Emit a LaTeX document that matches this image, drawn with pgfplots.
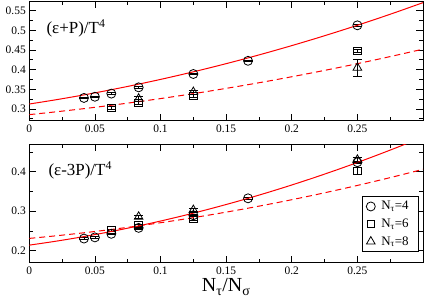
\documentclass[border=0pt]{standalone}
\usepackage{fontspec}
\setmainfont{Liberation Serif}
\usepackage{pgfplots}
\pgfplotsset{compat=1.18}

\pgfplotsset{
 panel/.style={
  scale only axis, width=393.7bp,
  xmin=0, xmax=0.3,
  xtick={0,0.05,0.1,0.15,0.2,0.25},
  xticklabels={0,0.05,0.1,0.15,0.2,0.25},
  minor xtick={0.025,0.075,0.125,0.175,0.225,0.275},
  tick align=inside, major tick length=7bp, minor tick length=4bp,
  axis line style={line width=0.8bp},
  every tick/.style={black, line width=0.8bp},
  tick label style={font=\fontsize{11.5}{13}\selectfont},
  /pgf/number format/assume math mode=true,
  xticklabel style={yshift=-1bp},
 },
 circ/.style={black, only marks, mark=o, mark size=4.5bp, mark options={line width=0.8bp},
   error bars/.cd, y dir=both, y explicit, error bar style={line width=0.8bp}, error mark options={rotate=90, mark size=4.5bp, line width=0.8bp}},
 sq/.style={black, only marks, mark=square, mark size=3.8bp, mark options={line width=0.8bp},
   error bars/.cd, y dir=both, y explicit, error bar style={line width=0.8bp}, error mark options={rotate=90, mark size=3.8bp, line width=0.8bp}},
 tri/.style={black, only marks, mark=triangle, mark size=5bp, mark options={line width=0.8bp},
   error bars/.cd, y dir=both, y explicit, error bar style={line width=0.8bp}, error mark options={rotate=90, mark size=4.5bp, line width=0.8bp}},
 fitsolid/.style={red, line width=1bp, no markers, smooth, forget plot},
 fitdash/.style={red, line width=1bp, no markers, smooth, dash pattern=on 6bp off 4bp, forget plot},
}

\begin{document}
\begin{tikzpicture}
\useasboundingbox (0,0) rectangle (425bp,304bp);

% ---------- top panel ----------
\begin{axis}[panel, at={(29.3bp,183.3bp)}, anchor=south west, height=119.7bp,
  ymin=0.27, ymax=0.575,
  ytick={0.3,0.35,0.4,0.45,0.5,0.55},
  yticklabels={0.3,0.35,0.4,0.45,0.5,0.55},
  minor ytick={0.275,0.325,0.375,0.425,0.475,0.525},
]
\addplot[circ] coordinates {
 (0.04167,0.328) +- (0,0.002)
 (0.05,0.331) +- (0,0.002)
 (0.0625,0.339) +- (0,0.002)
 (0.08333,0.355) +- (0,0.002)
 (0.125,0.389) +- (0,0.002)
 (0.16667,0.4226) +- (0,0.002)
 (0.25,0.513) +- (0,0.002)
};
\addplot[sq] coordinates {
 (0.0625,0.3025) +- (0,0.003)
 (0.08333,0.315) +- (0,0.003)
 (0.125,0.333) +- (0,0.003)
 (0.25,0.448) +- (0,0.004)
};
\addplot[tri] coordinates {
 (0.08333,0.326) +- (0,0.006)
 (0.125,0.343) +- (0,0.005)
 (0.25,0.405) +- (0,0.022)
};
\addplot[fitsolid] coordinates {
 (0,0.3125) (0.02,0.32317) (0.04,0.33477) (0.06,0.34731) (0.08,0.36079)
 (0.10,0.3752) (0.12,0.39055) (0.14,0.40683) (0.16,0.42405) (0.18,0.44221)
 (0.20,0.4613) (0.22,0.48133) (0.24,0.50229) (0.26,0.52419) (0.28,0.54703) (0.30,0.5708)
};
\addplot[fitdash] coordinates {
 (0,0.2855) (0.02,0.2925) (0.04,0.30008) (0.06,0.30825) (0.08,0.31702)
 (0.10,0.32637) (0.12,0.33631) (0.14,0.34685) (0.16,0.35797) (0.18,0.36968)
 (0.20,0.38198) (0.22,0.39487) (0.24,0.40835) (0.26,0.42242) (0.28,0.43708) (0.30,0.45233)
};
\node[anchor=west, font=\fontsize{17}{19}\selectfont] at (rel axis cs:0.035,0.77) {(ε+P)/T\textsuperscript{4}};
\end{axis}

% ---------- bottom panel ----------
\begin{axis}[panel, at={(29.3bp,41.3bp)}, anchor=south west, height=118.7bp,
  ymin=0.17, ymax=0.47,
  ytick={0.2,0.3,0.4},
  yticklabels={0.2,0.3,0.4},
  minor ytick={0.25,0.35,0.45},
  xlabel={N\textsubscript{τ}/N\textsubscript{σ}},
  xlabel style={font=\fontsize{20}{22}\selectfont, yshift=3bp},
  legend style={at={(0.9898,0.09)}, anchor=south east, draw=black, line width=0.8bp, fill=white,
    font=\fontsize{13}{15}\selectfont, row sep=3.5bp, inner xsep=4bp, inner ysep=3bp,
    nodes={inner xsep=6bp}},
  legend cell align=left,
]
\addplot[circ] coordinates {
 (0.04167,0.231) +- (0,0.002)
 (0.05,0.234) +- (0,0.002)
 (0.0625,0.243) +- (0,0.002)
 (0.08333,0.258) +- (0,0.002)
 (0.125,0.29) +- (0,0.002)
 (0.16667,0.3327) +- (0,0.002)
 (0.25,0.424) +- (0,0.002)
};
\addlegendentry{N\textsubscript{τ}=4}
\addplot[sq] coordinates {
 (0.0625,0.251) +- (0,0.003)
 (0.08333,0.264) +- (0,0.003)
 (0.125,0.281) +- (0,0.005)
 (0.25,0.402) +- (0,0.008)
};
\addlegendentry{N\textsubscript{τ}=6}
\addplot[tri] coordinates {
 (0.08333,0.286) +- (0,0.004)
 (0.125,0.303) +- (0,0.004)
 (0.25,0.43) +- (0,0.006)
};
\addlegendentry{N\textsubscript{τ}=8}
\addplot[fitsolid] coordinates {
 (0,0.2144) (0.02,0.22416) (0.04,0.23512) (0.06,0.2473) (0.08,0.26069)
 (0.10,0.27528) (0.12,0.29109) (0.14,0.3081) (0.16,0.32632) (0.18,0.34576)
 (0.20,0.3664) (0.22,0.38825) (0.24,0.41132) (0.26,0.43559) (0.28,0.46107) (0.30,0.48776)
};
\addplot[fitdash] coordinates {
 (0,0.2314) (0.02,0.23784) (0.04,0.24502) (0.06,0.25294) (0.08,0.26161)
 (0.10,0.27102) (0.12,0.28117) (0.14,0.29207) (0.16,0.3037) (0.18,0.31608)
 (0.20,0.32921) (0.22,0.34308) (0.24,0.35769) (0.26,0.37304) (0.28,0.38913) (0.30,0.40597)
};
\node[anchor=west, font=\fontsize{17}{19}\selectfont] at (rel axis cs:0.04,0.78) {(ε-3P)/T\textsuperscript{4}};
\end{axis}
\end{tikzpicture}
\end{document}
